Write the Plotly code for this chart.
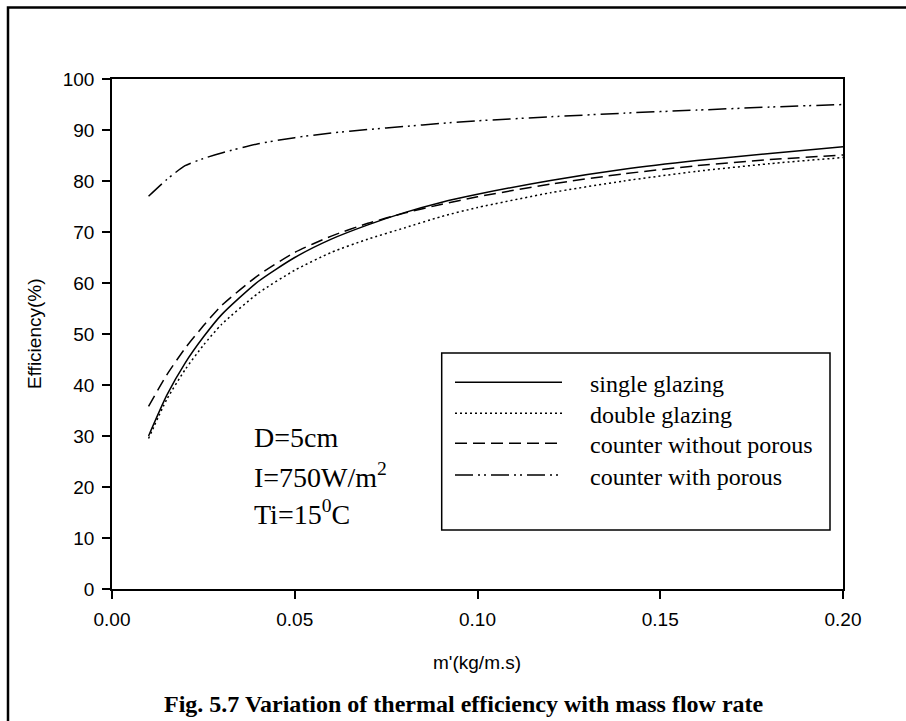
import plotly.graph_objects as go

# Mass flow rate (kg/m.s)
mass_flow = [0.01, 0.015, 0.02, 0.025, 0.03, 0.04, 0.05, 0.06, 0.07, 0.08,
             0.09, 0.10, 0.12, 0.14, 0.16, 0.18, 0.20]

# Thermal efficiency (%) for each collector configuration
single_glazing = [30.0, 38.0, 44.3, 49.4, 53.8, 60.3, 65.0, 68.6, 71.4, 73.8,
                  75.8, 77.4, 80.1, 82.3, 84.0, 85.4, 86.7]
double_glazing = [29.5, 37.2, 43.0, 47.8, 51.9, 58.0, 62.5, 66.0, 68.6, 70.8,
                  73.0, 74.8, 77.7, 80.0, 81.9, 83.4, 84.6]
counter_without_porous = [35.8, 42.0, 47.2, 51.6, 55.6, 61.5, 66.0, 69.2, 71.7, 73.7,
                          75.4, 76.9, 79.4, 81.4, 83.0, 84.2, 85.1]
counter_with_porous = [77.0, 80.3, 83.0, 84.4, 85.5, 87.3, 88.5, 89.4, 90.1, 90.7,
                       91.3, 91.8, 92.6, 93.3, 93.9, 94.5, 95.0]

series_names = ["single glazing", "double glazing",
                "counter without porous", "counter with porous"]
series_values = [single_glazing, double_glazing, counter_without_porous, counter_with_porous]
series_dash = ["solid", "2px,3px", "12px,6px", "18px,5px,2px,4px,2px,5px"]

x_ticks = [0.0, 0.05, 0.10, 0.15, 0.20]
x_tick_text = ["0.00", "0.05", "0.10", "0.15", "0.20"]
y_ticks = list(range(0, 101, 10))

W, H = 906, 721
PL, PR, PT, PB = 112, 843, 79, 589  # plot area in pixels

def px(x):
    return (x - PL) / (PR - PL)

def py(y):
    return (PB - y) / (PB - PT)

SANS = "Liberation Sans, Arial, sans-serif"
SERIF = "Liberation Serif, Times New Roman, serif"

fig = go.Figure()
for name, vals, dash in zip(series_names, series_values, series_dash):
    fig.add_trace(go.Scatter(
        x=mass_flow, y=vals, mode="lines", name=name,
        line=dict(color="black", width=1.5, dash=dash, shape="spline", smoothing=0.6),
        showlegend=False,
    ))

shapes = []
# figure frame
shapes.append(dict(type="rect", xref="paper", yref="paper",
                   x0=px(8), x1=px(920), y0=py(7.5), y1=py(735),
                   line=dict(color="black", width=2.5)))
# legend box
shapes.append(dict(type="rect", xref="paper", yref="paper",
                   x0=px(441.7), x1=px(830), y0=py(353), y1=py(530),
                   line=dict(color="black", width=1.5), fillcolor="white", layer="above"))

annotations = []
legend_rows = [382.3, 413.3, 443.3, 475]
for name, dash, yrow in zip(series_names, series_dash, legend_rows):
    shapes.append(dict(type="line", xref="paper", yref="paper",
                       x0=px(455), x1=px(562), y0=py(yrow), y1=py(yrow),
                       line=dict(color="black", width=1.5, dash=dash), layer="above"))
    annotations.append(dict(xref="paper", yref="paper", x=px(588), y=py(yrow + 2),
                            xanchor="left", yanchor="middle", showarrow=False,
                            text=name, font=dict(family=SERIF, size=24, color="black")))

# operating conditions
cond_lines = ["D=5cm", "I=750W/m<sup>2</sup>", "Ti=15<sup>0</sup>C"]
cond_y = [438, 475, 512]
for t, yy in zip(cond_lines, cond_y):
    annotations.append(dict(xref="paper", yref="paper", x=px(252), y=py(yy),
                            xanchor="left", yanchor="middle", showarrow=False,
                            text=t, font=dict(family=SERIF, size=28, color="black")))

# axis titles and caption
annotations.append(dict(xref="paper", yref="paper", x=px(477), y=py(662),
                        xanchor="center", yanchor="middle", showarrow=False,
                        text="m'(kg/m.s)", font=dict(family=SANS, size=19, color="black")))
annotations.append(dict(xref="paper", yref="paper", x=px(34), y=py(334),
                        xanchor="center", yanchor="middle", showarrow=False, textangle=-90,
                        text="Efficiency(%)", font=dict(family=SANS, size=19, color="black")))
annotations.append(dict(xref="paper", yref="paper", x=px(464), y=py(704),
                        xanchor="center", yanchor="middle", showarrow=False,
                        text="<b>Fig. 5.7 Variation of thermal efficiency with mass flow rate</b>",
                        font=dict(family=SERIF, size=24, color="black")))

fig.update_layout(
    width=W, height=H,
    margin=dict(l=PL, r=W - PR, t=PT, b=H - PB, pad=0),
    paper_bgcolor="white", plot_bgcolor="white",
    shapes=shapes, annotations=annotations,
    showlegend=False,
)
fig.update_xaxes(range=[0, 0.2], tickvals=x_ticks, ticktext=x_tick_text,
                 showgrid=False, zeroline=False, showline=True, linecolor="black",
                 linewidth=1.5, mirror=True, ticks="outside", ticklen=8, tickwidth=1.5,
                 tickcolor="black", ticklabelstandoff=4,
                 tickfont=dict(family=SANS, size=19, color="black"))
fig.update_yaxes(range=[0, 100], tickvals=y_ticks,
                 showgrid=False, zeroline=False, showline=True, linecolor="black",
                 linewidth=1.5, mirror=True, ticks="outside", ticklen=8, tickwidth=1.5,
                 tickcolor="black", ticklabelstandoff=4,
                 tickfont=dict(family=SANS, size=19, color="black"))

fig.write_html("out.html")
